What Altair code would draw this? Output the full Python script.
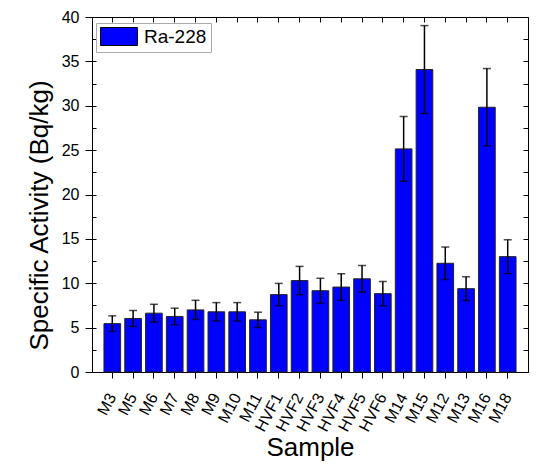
import altair as alt
import pandas as pd

samples = ["M3", "M5", "M6", "M7", "M8", "M9", "M10", "M11", "HVF1", "HVF2",
           "HVF3", "HVF4", "HVF5", "HVF6", "M14", "M15", "M12", "M13", "M16", "M18"]
activity = [5.45, 6.03, 6.63, 6.26, 7.0, 6.78, 6.78, 5.88, 8.72, 10.3,
            9.16, 9.57, 10.5, 8.83, 25.14, 34.08, 12.25, 9.39, 29.83, 13.0]
errors = [0.88, 0.9, 1.0, 0.93, 1.08, 1.04, 1.04, 0.86, 1.26, 1.6,
          1.4, 1.5, 1.5, 1.37, 3.65, 4.95, 1.83, 1.34, 4.36, 1.9]
series_name = "Ra-228"
y_ticks = [0, 5, 10, 15, 20, 25, 30, 35, 40]
y_minor = [i * 2.5 for i in range(17)]

df = pd.DataFrame({"sample": samples, "value": activity, "err": errors})
df["lo"] = df["value"] - df["err"]
df["hi"] = df["value"] + df["err"]
df["series"] = series_name

FONT = "Liberation Sans"

def xs():
    return alt.Scale(domain=samples, paddingInner=0.2, paddingOuter=0.575)

def ys():
    return alt.Scale(domain=[0, 40], nice=False, zero=True)

base = alt.Chart(df)

bars = base.mark_bar(stroke="#222222", strokeWidth=1).encode(
    x=alt.X("sample:N", sort=samples, scale=xs(), title="Sample",
            axis=alt.Axis(orient="bottom", labelAngle=-62, labelAlign="right",
                          labelBaseline="middle", labelFontSize=16, labelFont=FONT,
                          labelColor="black", tickSize=6, tickColor="black",
                          domainColor="black", labelPadding=16,
                          titleFont=FONT, titleFontSize=26, titleFontWeight="normal",
                          titleColor="black", titleY=83, titleBaseline="alphabetic")),
    y=alt.Y("value:Q", scale=ys(), title="Specific Activity (Bq/kg)",
            axis=alt.Axis(orient="left", values=y_ticks, labelFontSize=16, labelFont=FONT,
                          labelColor="black", tickSize=7, tickColor="black",
                          domainColor="black", labelPadding=6, grid=False,
                          titleFont=FONT, titleFontSize=26, titleFontWeight="normal",
                          titleColor="black", titleX=-45, titleY=198,
                          titleAngle=-90, titleBaseline="alphabetic", titleAlign="center")),
    color=alt.Color("series:N", scale=alt.Scale(range=["#0000ff"]), title=None,
                    legend=alt.Legend(orient="none", legendX=4, legendY=6,
                                      symbolType="M-1,-1H3.1V1H-1Z", symbolSize=324,
                                      symbolStrokeColor="black", symbolStrokeWidth=1,
                                      labelFontSize=19, labelFont=FONT, labelColor="black",
                                      strokeColor="#aaaaaa", fillColor="white", padding=4,
                                      labelOffset=25)),
)

rules = base.mark_rule(color="black", strokeWidth=1.5).encode(
    x=alt.X("sample:N", sort=samples, scale=xs(),
            axis=alt.Axis(orient="top", labels=False, title=None, domain=False,
                          tickSize=5, offset=-5, tickColor="black")),
    y=alt.Y("lo:Q", scale=ys(),
            axis=alt.Axis(orient="right", labels=False, title=None, domain=False,
                          values=y_minor, tickSize=5, offset=-5, tickColor="black",
                          grid=False)),
    y2="hi:Q",
)

caps_lo = base.mark_tick(color="black", thickness=1.5, size=8, orient="horizontal").encode(
    x=alt.X("sample:N", sort=samples, scale=xs(),
            axis=alt.Axis(orient="bottom", labels=False, title=None, domain=False,
                          tickSize=4, offset=-4, tickColor="black")),
    y=alt.Y("lo:Q", scale=ys(),
            axis=alt.Axis(orient="left", labels=False, title=None, domain=False,
                          values=y_minor, tickSize=4, offset=-4, tickColor="black",
                          grid=False)),
)

caps_hi = base.mark_tick(color="black", thickness=1.5, size=8, orient="horizontal").encode(
    x=alt.X("sample:N", sort=samples, scale=xs(), axis=None),
    y=alt.Y("hi:Q", scale=ys(), axis=None),
)

chart = alt.layer(bars, rules, caps_lo, caps_hi).resolve_scale(
    x="independent", y="independent"
).properties(
    width=436, height=355,
    autosize=alt.AutoSizeParams(type="none"),
    padding={"left": 84, "top": 9, "right": 1, "bottom": 89},
).configure_view(stroke="black", strokeWidth=1).configure_axis(grid=False)

chart.save("out.html", embed_options={"renderer": "svg", "actions": False})
